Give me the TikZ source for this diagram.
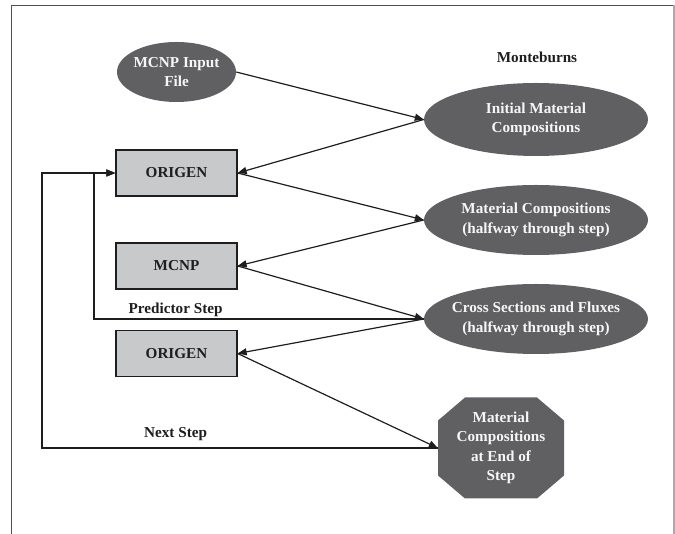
\documentclass[tikz,border=0pt]{standalone}
\usepackage{fontspec}
\setmainfont{Liberation Serif}
\usetikzlibrary{arrows.meta,shapes.geometric}
\definecolor{dk}{RGB}{96,96,98}
\definecolor{lt}{RGB}{200,201,203}
\definecolor{ln}{RGB}{30,30,30}
\definecolor{wt}{RGB}{246,246,246}
\definecolor{frdark}{RGB}{80,80,80}
\definecolor{frlight}{RGB}{170,170,170}
\tikzset{
  txt/.style={font=\fontsize{15.2bp}{19.5bp}\selectfont\bfseries, align=center, inner sep=0pt},
  oval/.style={txt, ellipse, fill=dk, text=wt, inner xsep=-30bp, inner ysep=-5bp},
  box/.style={txt, rectangle, fill=lt, draw=ln, line width=1.3bp, minimum width=121bp, minimum height=46bp, text=ln},
  octbox/.style={txt, rectangle, minimum width=126bp, minimum height=101bp, text=wt,
    path picture={\fill[dk]
      ([xshift=27bp]path picture bounding box.north west) --
      ([xshift=-27bp]path picture bounding box.north east) --
      ([yshift=-23bp]path picture bounding box.north east) --
      ([yshift=23bp]path picture bounding box.south east) --
      ([xshift=-27bp]path picture bounding box.south east) --
      ([xshift=27bp]path picture bounding box.south west) --
      ([yshift=23bp]path picture bounding box.south west) --
      ([yshift=-23bp]path picture bounding box.north west) -- cycle;}},
  lbl/.style={txt, text=ln},
  conn/.style={draw=ln, line width=1.2bp, -{Triangle[length=9bp,width=7bp]}},
  frame/.style={line width=1.5bp}
}
\begin{document}
\begin{tikzpicture}[x=1bp,y=1bp]
\useasboundingbox (0,0) rectangle (675,534);
% frame
\draw[frame, draw=frdark] (11.5,0) -- (11.5,528.5) -- (674,528.5);
\draw[frame, draw=frlight] (674,528.5) -- (674,0);
% nodes
\node[oval, minimum width=119bp, minimum height=60bp] (mcnpin) at (176.5,462) {MCNP Input\\File};
\node[lbl] (mb) at (537,477) {Monteburns};
\node[oval, minimum width=224bp, minimum height=73bp] (init) at (536,414.5) {Initial Material\\Compositions};
\node[box] (orig1) at (176.5,361) {ORIGEN};
\node[oval, minimum width=224bp, minimum height=70bp] (matc) at (536,314) {Material Compositions\\(halfway through step)};
\node[box] (mcnp) at (176.5,268) {MCNP};
\node[oval, minimum width=224bp, minimum height=70bp] (cross) at (536,215) {Cross Sections and Fluxes\\(halfway through step)};
\node[box] (orig2) at (176.5,180.5) {ORIGEN};
\node[octbox] (oct) at (501,86) {Material\\Compositions\\at End of\\Step};
\node[lbl] (pred) at (175.6,224.5) {Predictor Step};
\node[lbl] (next) at (175.6,100.3) {Next Step};
\coordinate (px) at (94,0);
\coordinate (ox) at (42,0);
% connectors
\draw[conn] (mcnpin.east) -- (init.west);
\draw[conn] (init.west) -- (orig1.east);
\draw[conn] (orig1.east) -- (matc.west);
\draw[conn] (matc.west) -- (mcnp.east);
\draw[conn] (mcnp.east) -- (cross.west);
\draw[conn] (cross.west) -- (orig2.east);
\draw[conn] (orig2.east) -- (oct.west);
\draw[conn] (cross.west) -| (px |- orig1.west) -- (orig1.west);
\draw[conn] (oct.west) -| (ox |- orig1.west) -- (orig1.west);
\end{tikzpicture}
\end{document}
